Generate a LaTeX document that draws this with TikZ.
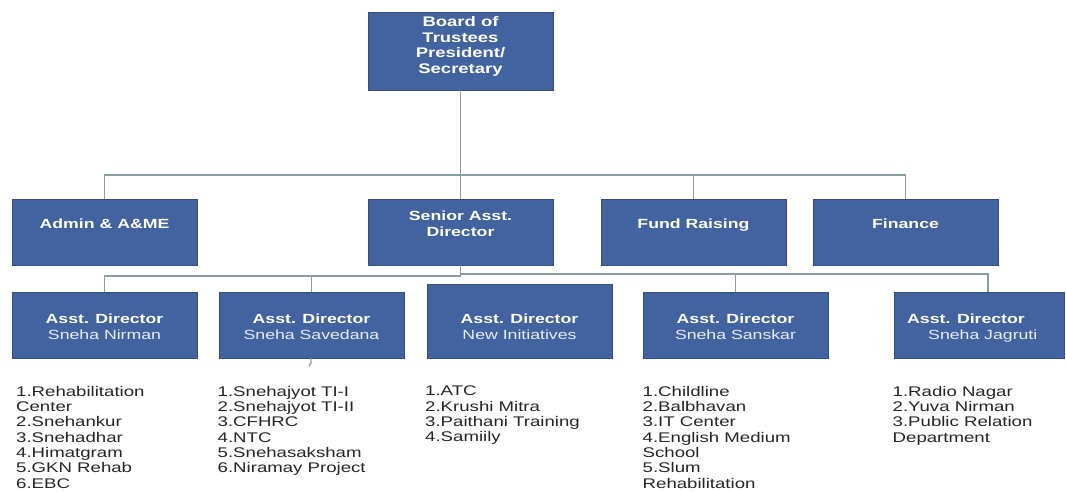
\documentclass[tikz,border=0pt]{standalone}
\usepackage{fontspec}
\setmainfont{Liberation Sans}[FakeStretch=1.33]
\definecolor{boxblue}{RGB}{66,99,160}
\definecolor{boxedge}{RGB}{52,78,130}
\definecolor{linegray}{RGB}{138,158,160}
\definecolor{subwhite}{RGB}{232,236,244}
\definecolor{listtext}{RGB}{38,38,38}
\begin{document}
\begin{tikzpicture}[x=1pt,y=-1pt,
  box/.style={draw=boxedge, line width=0.8pt, fill=boxblue, anchor=north west,
    minimum width=185pt, minimum height=66pt, inner sep=0pt, outer sep=0pt},
  boxtext/.style={anchor=north, inner sep=0pt, align=center, text=white,
    font=\fontsize{13.3}{16}\selectfont\bfseries},
  listtxt/.style={anchor=north west, inner sep=0pt, align=left, text=listtext,
    font=\fontsize{14}{15.3}\selectfont},
  conn/.style={draw=linegray, line width=1.3pt}]
\useasboundingbox (0,0) rectangle (1066,492);
\fill[white] (0,0) rectangle (1066,492);
\clip (0,0) rectangle (1066,492);

% top
\node[box, minimum height=78pt] (board) at (368,12) {};
\node[boxtext, font=\fontsize{13.9}{15.8}\selectfont\bfseries] (boardt) at (460.5,16) {Board of\\Trustees\\President/\\Secretary};

% second level
\node[box] (admin) at (12,199) {};
\node[box] (senior) at (368,199) {};
\node[box] (fund) at (601,199) {};
\node[box] (finance) at (813,199) {};
\node[boxtext] (admint) at (104.5,219) {Admin \& A\&ME};
\node[boxtext] (seniort) at (460.5,211) {Senior Asst.\\Director};
\node[boxtext] (fundt) at (693.5,219) {Fund Raising};
\node[boxtext] (financet) at (905.5,219) {Finance};

% third level
\node[box] (nirman) at (12,292) {};
\node[box] (savedana) at (219,292) {};
\node[box, minimum height=74pt] (newinit) at (427,284) {};
\node[box] (sanskar) at (643,292) {};
\node[box, minimum width=170pt] (jagruti) at (894,292) {};
\node[boxtext] (nirmant) at (104.5,314) {Asst. Director\\{\mdseries\color{subwhite}Sneha Nirman}};
\node[boxtext] (savedanat) at (311.5,314) {Asst. Director\\{\mdseries\color{subwhite}Sneha Savedana}};
\node[boxtext] (newinitt) at (519.5,314) {Asst. Director\\{\mdseries\color{subwhite}New Initiatives}};
\node[boxtext] (sanskart) at (735.5,314) {Asst. Director\\{\mdseries\color{subwhite}Sneha Sanskar}};
\node[boxtext, anchor=north west, align=left] (jagrutit) at (907,314) {Asst. Director\\\hspace*{21pt}{\mdseries\color{subwhite}Sneha Jagruti}};

% lists
\node[listtxt] (nirmanl) at (16,386) {1.Rehabilitation\\Center\\2.Snehankur\\3.Snehadhar\\4.Himatgram\\5.GKN Rehab\\6.EBC};
\node[listtxt] (savedanal) at (217.5,386) {1.Snehajyot TI-I\\2.Snehajyot TI-II\\3.CFHRC\\4.NTC\\5.Snehasaksham\\6.Niramay Project};
\node[listtxt] (newinitl) at (425,386) {1.ATC\\2.Krushi Mitra\\3.Paithani Training\\4.Samiily};
\node[listtxt] (sanskarl) at (642.5,386) {1.Childline\\2.Balbhavan\\3.IT Center\\4.English Medium\\School\\5.Slum\\Rehabilitation};
\node[listtxt] (jagrutil) at (892.5,386) {1.Radio Nagar\\2.Yuva Nirman\\3.Public Relation\\Department};

% connectors
\coordinate (bar1) at (460.5,175);
\coordinate (bar2l) at (460.5,276);
\coordinate (bar2r) at (460.5,274);
\coordinate (tickend) at (309,366);
\draw[conn] (board.south) -- (senior.north);
\draw[conn] (admin.north) |- (bar1) -| (finance.north);
\draw[conn] (fund.north) -- (fund.north |- bar1);
\draw[conn] (senior.south) -- (bar2l);
\draw[conn] (bar2l) -| (nirman.north);
\draw[conn] (savedana.north) -- (savedana.north |- bar2l);
\draw[conn] (bar2r) -| ([xshift=9pt]jagruti.north);
\draw[conn] (sanskar.north) -- (sanskar.north |- bar2r);
\draw[conn] (savedana.south -| tickend) ++(2,0) -- ++(0,5) -- (tickend);
\end{tikzpicture}
\end{document}
